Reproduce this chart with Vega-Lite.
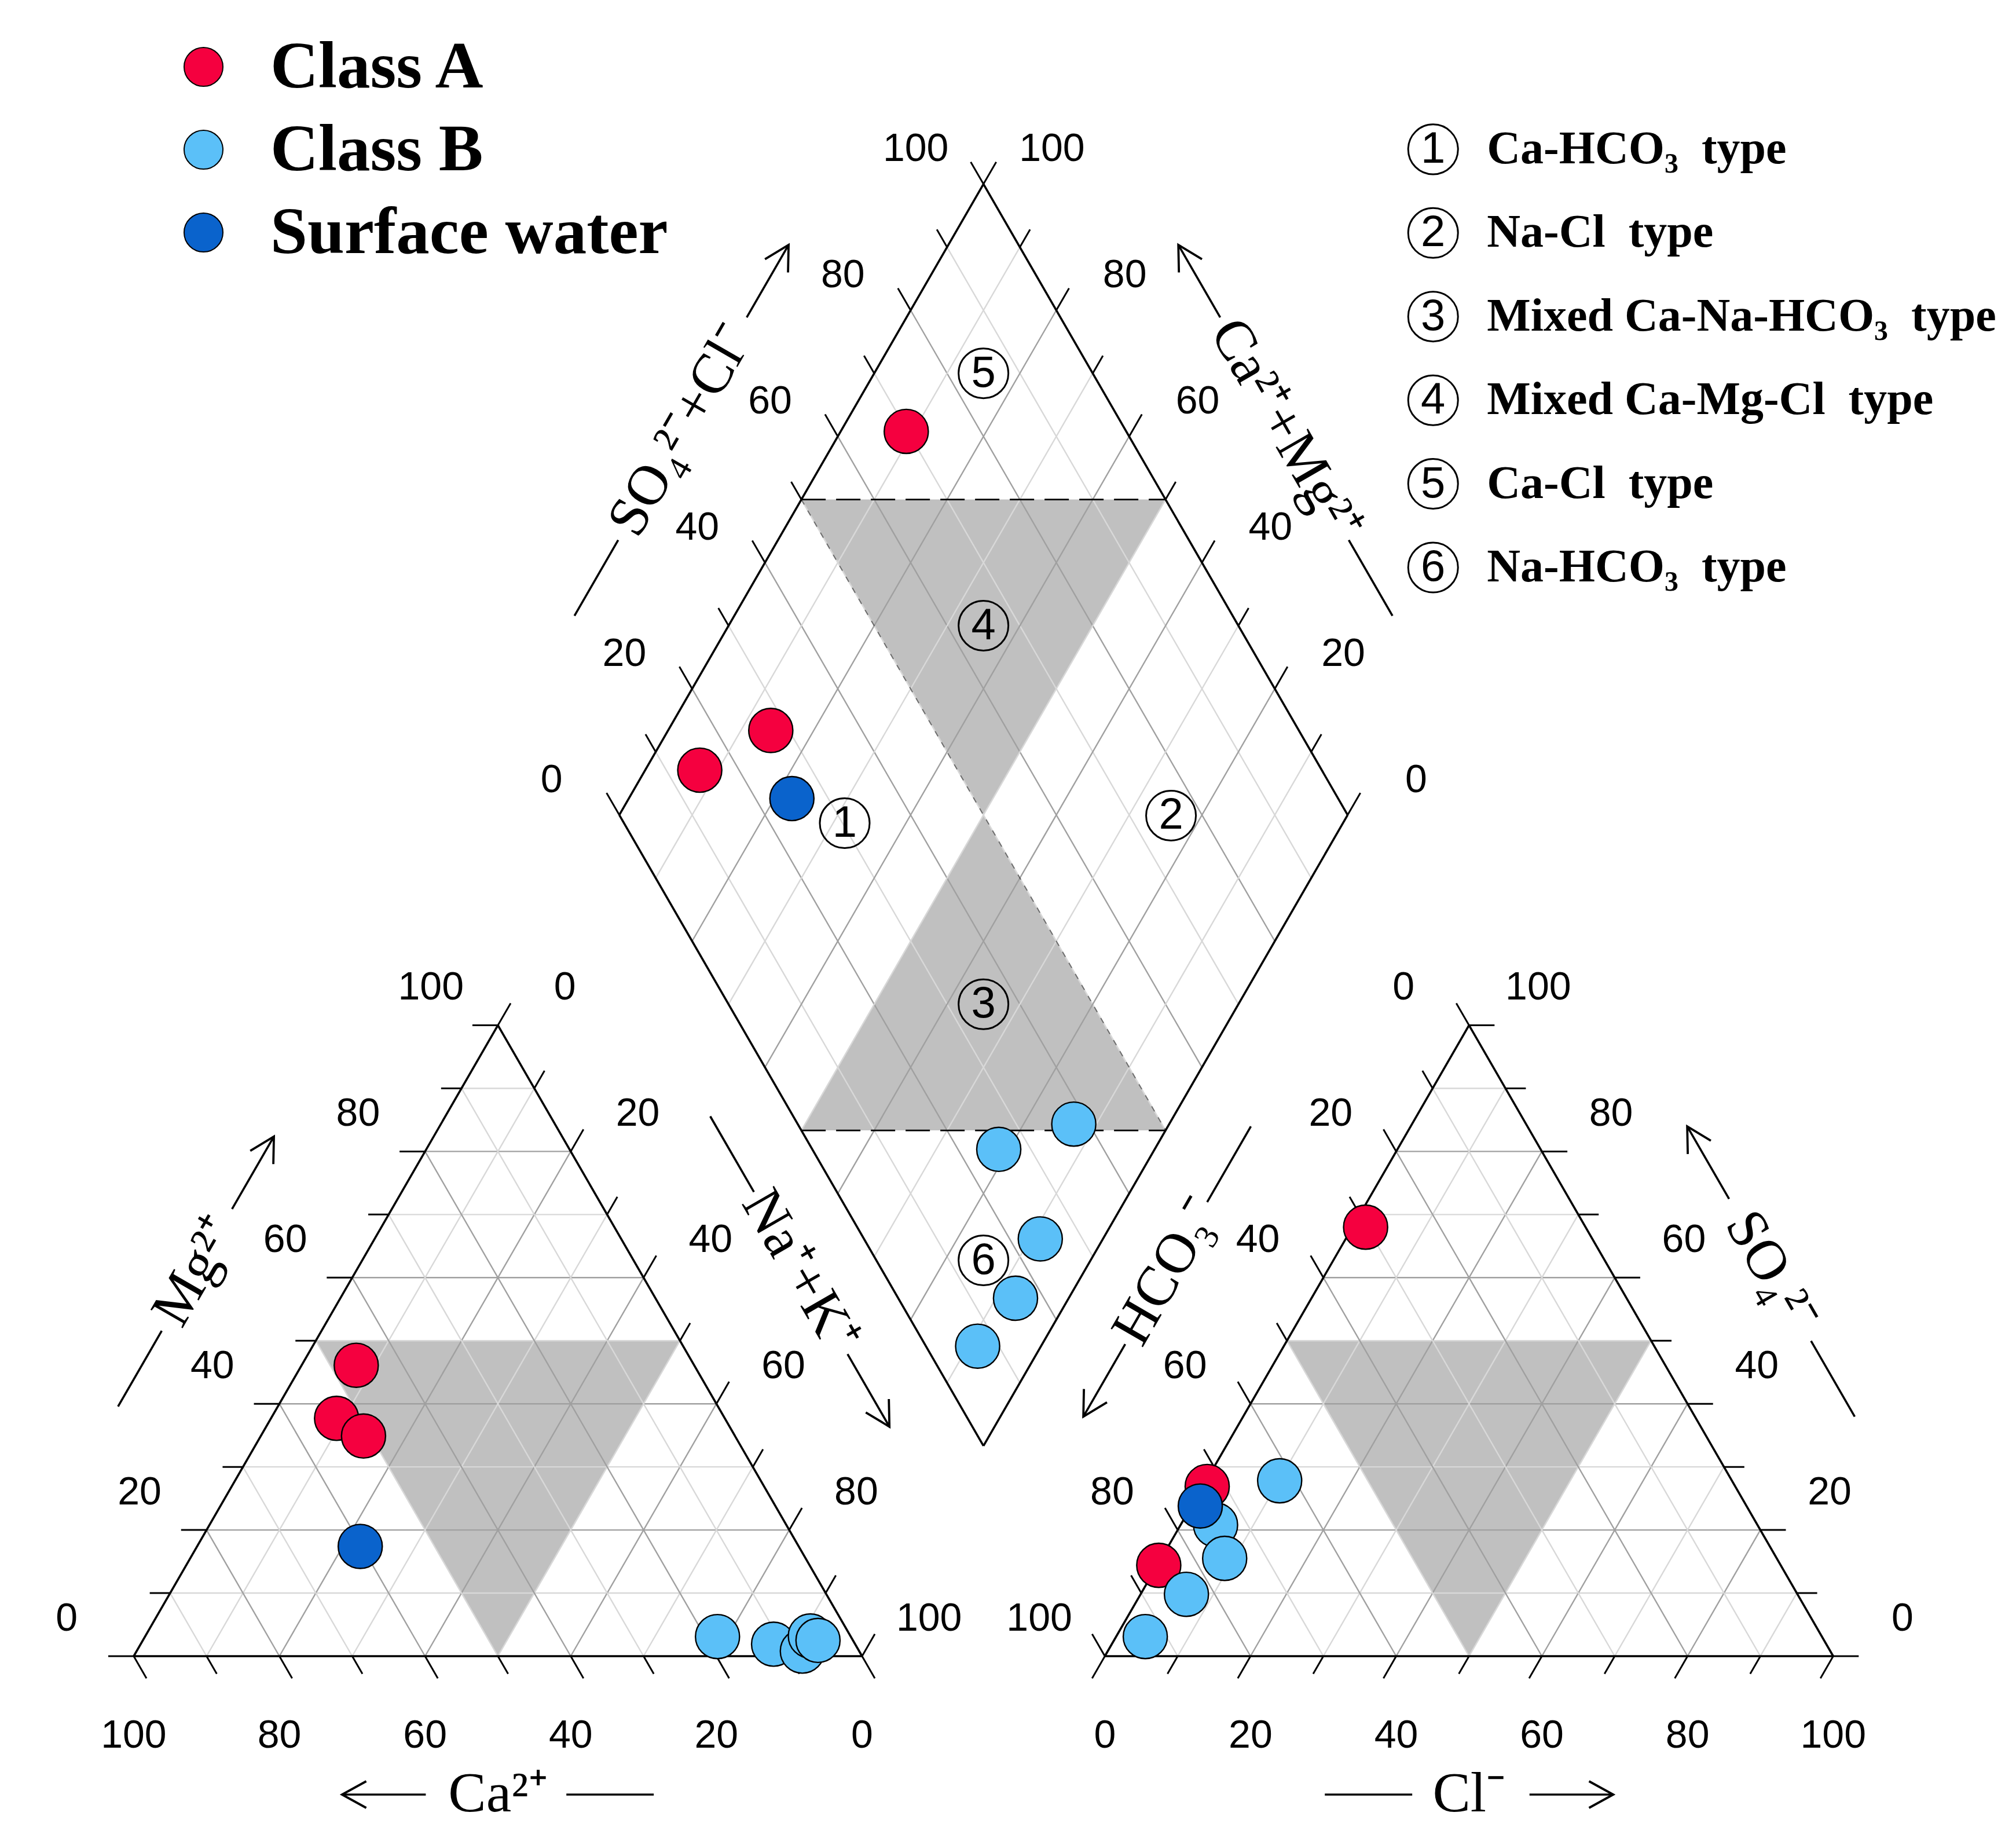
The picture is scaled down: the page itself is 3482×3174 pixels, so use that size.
{
  "$schema": "https://vega.github.io/schema/vega-lite/v6.json",
  "width": 3482,
  "height": 3174,
  "autosize": {"type": "fit", "contains": "padding"},
  "padding": 0,
  "background": "white",
  "config": {"view": {"stroke": null}},
  "datasets": {
    "samples": [
      {"id": "A1", "cls": "Class A", "Ca": 46.4, "Mg": 46.1, "NaK": 7.5, "HCO3": 85.4, "SO4": 14.4, "Cl": 0.2},
      {"id": "A2", "cls": "Class A", "Ca": 53.3, "Mg": 37.7, "NaK": 9.0, "HCO3": 30.2, "SO4": 68.0, "Cl": 1.8},
      {"id": "A3", "cls": "Class A", "Ca": 51.0, "Mg": 34.9, "NaK": 14.1, "HCO3": 72.5, "SO4": 26.9, "Cl": 0.6},
      {"id": "B1", "cls": "Class B", "Ca": 18.3, "Mg": 3.1, "NaK": 78.6, "HCO3": 74.4, "SO4": 20.8, "Cl": 4.8},
      {"id": "B2", "cls": "Class B", "Ca": 11.2, "Mg": 1.9, "NaK": 86.9, "HCO3": 62.1, "SO4": 27.8, "Cl": 10.1},
      {"id": "B3", "cls": "Class B", "Ca": 7.8, "Mg": 0.8, "NaK": 91.4, "HCO3": 75.8, "SO4": 15.5, "Cl": 8.7},
      {"id": "B4", "cls": "Class B", "Ca": 5.5, "Mg": 3.2, "NaK": 91.3, "HCO3": 92.9, "SO4": 3.1, "Cl": 4.0},
      {"id": "B5", "cls": "Class B", "Ca": 4.8, "Mg": 2.5, "NaK": 92.7, "HCO3": 83.9, "SO4": 9.8, "Cl": 6.3},
      {"id": "S1", "cls": "Surface water", "Ca": 60.2, "Mg": 17.4, "NaK": 22.4, "HCO3": 75.0, "SO4": 23.8, "Cl": 1.2}
    ],
    "axes": [
      {"axis": "Mg", "vs": [0, 10, 20, 30, 40, 50, 60, 70, 80, 90, 100]},
      {"axis": "Na", "vs": [0, 10, 20, 30, 40, 50, 60, 70, 80, 90, 100]},
      {"axis": "Ca", "vs": [0, 10, 20, 30, 40, 50, 60, 70, 80, 90, 100]},
      {"axis": "SO4", "vs": [0, 10, 20, 30, 40, 50, 60, 70, 80, 90, 100]},
      {"axis": "Cl", "vs": [0, 10, 20, 30, 40, 50, 60, 70, 80, 90, 100]},
      {"axis": "HCO3", "vs": [0, 10, 20, 30, 40, 50, 60, 70, 80, 90, 100]},
      {"axis": "SC", "vs": [0, 10, 20, 30, 40, 50, 60, 70, 80, 90, 100]},
      {"axis": "CM", "vs": [0, 10, 20, 30, 40, 50, 60, 70, 80, 90, 100]}
    ],
    "titles": [
      {"axis": "Mg", "label": "Mg²⁺"},
      {"axis": "Na", "label": "Na⁺+K⁺"},
      {"axis": "Ca", "label": "Ca²⁺"},
      {"axis": "SO4", "label": "SO₄²⁻"},
      {"axis": "Cl", "label": "Cl⁻"},
      {"axis": "HCO3", "label": "HCO₃⁻"},
      {"axis": "SC", "label": "SO₄²⁻+Cl⁻"},
      {"axis": "CM", "label": "Ca²⁺+Mg²⁺"}
    ],
    "shade": [
      {"reg": "c", "u": 0, "w": 50}, {"reg": "c", "u": 50, "w": 0}, {"reg": "c", "u": 50, "w": 50},
      {"reg": "a", "u": 0, "w": 50}, {"reg": "a", "u": 50, "w": 0}, {"reg": "a", "u": 50, "w": 50},
      {"reg": "d4", "u": 50, "w": 100}, {"reg": "d4", "u": 50, "w": 50}, {"reg": "d4", "u": 100, "w": 50},
      {"reg": "d3", "u": 0, "w": 50}, {"reg": "d3", "u": 50, "w": 0}, {"reg": "d3", "u": 50, "w": 50}
    ],
    "dashes": [
      {"s1": 50, "c1": 100, "s2": 100, "c2": 50},
      {"s1": 0, "c1": 50, "s2": 50, "c2": 0},
      {"s1": 50, "c1": 100, "s2": 50, "c2": 0}
    ],
    "zones": [
      {"z": 1, "name": "Ca-HCO₃\u00a0 type", "sc": 30.3, "cm": 68.4},
      {"z": 2, "name": "Na-Cl\u00a0 type", "sc": 75.7, "cm": 24.2},
      {"z": 3, "name": "Mixed Ca-Na-HCO₃\u00a0 type", "sc": 35, "cm": 35},
      {"z": 4, "name": "Mixed Ca-Mg-Cl\u00a0 type", "sc": 65, "cm": 65},
      {"z": 5, "name": "Ca-Cl\u00a0 type", "sc": 85, "cm": 85},
      {"z": 6, "name": "Na-HCO₃\u00a0 type", "sc": 14.7, "cm": 14.7}
    ]
  },
  "encoding": {
    "x": {"field": "x", "type": "quantitative", "scale": {"domain": [-18.36, 258.43], "nice": false, "zero": false}, "axis": null},
    "y": {"field": "y", "type": "quantitative", "scale": {"domain": [-24.96, 227.34], "nice": false, "zero": false}, "axis": null}
  },
  "layer": [
    {
      "data": {"name": "shade"},
      "transform": [
        {"calculate": "datum.reg=='c' ? datum.u + datum.w/2 : datum.reg=='a' ? 133.3333 + datum.u + datum.w/2 : 116.6667 + (datum.u - datum.w)/2", "as": "x"},
        {"calculate": "(datum.reg=='c' || datum.reg=='a') ? 0.8660254*datum.w : 28.8675 + 0.8660254*(datum.u + datum.w)", "as": "y"},
        {"joinaggregate": [{"op": "min", "field": "y", "as": "ymin"}, {"op": "max", "field": "y", "as": "ymax"}], "groupby": ["reg"]},
        {"calculate": "datum.reg=='d3' ? datum.ymin : datum.ymax", "as": "y2"}
      ],
      "mark": {"type": "area", "orient": "vertical", "color": "#c0c0c0", "opacity": 1, "interpolate": "linear"},
      "encoding": {"y2": {"field": "y2"}, "detail": {"field": "reg"}}
    },
    {
      "data": {"name": "axes"},
      "transform": [
        {"flatten": ["vs"], "as": ["v"]},
        {"calculate": "datum.axis=='Mg' ? 0 : datum.axis=='Na' ? 1 : datum.axis=='Ca' ? 2 : datum.axis=='SO4' ? 3 : datum.axis=='Cl' ? 4 : datum.axis=='HCO3' ? 5 : datum.axis=='SC' ? 6 : 7", "as": "t"},
        {"calculate": "(datum.t>=3 && datum.t<=5) ? 133.3333 : 0", "as": "off"},
        {"calculate": "(datum.t==0||datum.t==3) ? 'h' : (datum.t==1||datum.t==4) ? 'l' : (datum.t==2||datum.t==5) ? 'r' : datum.t==6 ? 'a' : 'c'", "as": "k"},
        {"calculate": "datum.k=='h' ? datum.off+datum.v/2 : datum.k=='l' ? datum.off+datum.v : datum.k=='r' ? datum.off+100-datum.v : datum.k=='a' ? 116.6667+datum.v/2 : 116.6667-datum.v/2", "as": "x"},
        {"calculate": "datum.k=='h' ? 0.8660254*datum.v : (datum.k=='l'||datum.k=='r') ? 0 : 28.8675+0.8660254*datum.v", "as": "y"},
        {"calculate": "datum.k=='h' ? datum.off+100-datum.v/2 : datum.k=='l' ? datum.off+50+datum.v/2 : datum.k=='r' ? datum.off+(100-datum.v)/2 : datum.k=='a' ? 116.6667+(datum.v-100)/2 : 116.6667+(100-datum.v)/2", "as": "x2"},
        {"calculate": "datum.k=='h' ? 0.8660254*datum.v : (datum.k=='l'||datum.k=='r') ? 0.8660254*(100-datum.v) : 28.8675+0.8660254*(100+datum.v)", "as": "y2"},
        {"filter": "datum.v > 0 && datum.v < 100"}
      ],
      "mark": {"type": "rule", "strokeWidth": 2.4},
      "encoding": {
        "x2": {"field": "x2"},
        "y2": {"field": "y2"},
        "color": {"condition": {"test": "datum.v % 20 == 0", "value": "#a0a0a0"}, "value": "#d8d8d8"}
      }
    },
    {
      "data": {"name": "dashes"},
      "transform": [
        {"filter": "datum.s1 + datum.c1 == datum.s2 + datum.c2"},
        {"calculate": "116.6667 + (datum.s1 - datum.c1)/2", "as": "x"},
        {"calculate": "28.8675 + 0.8660254*(datum.s1 + datum.c1)", "as": "y"},
        {"calculate": "116.6667 + (datum.s2 - datum.c2)/2", "as": "x2"},
        {"calculate": "28.8675 + 0.8660254*(datum.s2 + datum.c2)", "as": "y2"}
      ],
      "mark": {"type": "rule", "color": "black", "strokeWidth": 2.8, "strokeDash": [42, 18]},
      "encoding": {"x2": {"field": "x2"}, "y2": {"field": "y2"}}
    },
    {
      "data": {"name": "dashes"},
      "transform": [
        {"filter": "datum.s1 + datum.c1 != datum.s2 + datum.c2"},
        {"calculate": "116.6667 + (datum.s1 - datum.c1)/2", "as": "x"},
        {"calculate": "28.8675 + 0.8660254*(datum.s1 + datum.c1)", "as": "y"},
        {"calculate": "116.6667 + (datum.s2 - datum.c2)/2", "as": "x2"},
        {"calculate": "28.8675 + 0.8660254*(datum.s2 + datum.c2)", "as": "y2"}
      ],
      "mark": {"type": "rule", "color": "black", "strokeWidth": 2, "strokeDash": [10, 12], "opacity": 0.5},
      "encoding": {"x2": {"field": "x2"}, "y2": {"field": "y2"}}
    },
    {
      "data": {"name": "axes"},
      "transform": [
        {"flatten": ["vs"], "as": ["v"]},
        {"calculate": "datum.axis=='Mg' ? 0 : datum.axis=='Na' ? 1 : datum.axis=='Ca' ? 2 : datum.axis=='SO4' ? 3 : datum.axis=='Cl' ? 4 : datum.axis=='HCO3' ? 5 : datum.axis=='SC' ? 6 : 7", "as": "t"},
        {"calculate": "(datum.t>=3 && datum.t<=5) ? 133.3333 : 0", "as": "off"},
        {"calculate": "(datum.t==0||datum.t==3) ? 'h' : (datum.t==1||datum.t==4) ? 'l' : (datum.t==2||datum.t==5) ? 'r' : datum.t==6 ? 'a' : 'c'", "as": "k"},
        {"calculate": "datum.k=='h' ? datum.off+datum.v/2 : datum.k=='l' ? datum.off+datum.v : datum.k=='r' ? datum.off+100-datum.v : datum.k=='a' ? 116.6667+datum.v/2 : 116.6667-datum.v/2", "as": "x"},
        {"calculate": "datum.k=='h' ? 0.8660254*datum.v : (datum.k=='l'||datum.k=='r') ? 0 : 28.8675+0.8660254*datum.v", "as": "y"},
        {"calculate": "datum.k=='h' ? datum.off+100-datum.v/2 : datum.k=='l' ? datum.off+50+datum.v/2 : datum.k=='r' ? datum.off+(100-datum.v)/2 : datum.k=='a' ? 116.6667+(datum.v-100)/2 : 116.6667+(100-datum.v)/2", "as": "x2"},
        {"calculate": "datum.k=='h' ? 0.8660254*datum.v : (datum.k=='l'||datum.k=='r') ? 0.8660254*(100-datum.v) : 28.8675+0.8660254*(100+datum.v)", "as": "y2"},
        {"filter": "datum.v == 0 || (datum.v == 100 && datum.t >= 6)"}
      ],
      "mark": {"type": "rule", "color": "black", "strokeWidth": 3.6},
      "encoding": {"x2": {"field": "x2"}, "y2": {"field": "y2"}}
    },
    {
      "data": {"name": "axes"},
      "transform": [
        {"flatten": ["vs"], "as": ["v"]},
        {"calculate": "datum.axis=='Mg' ? 0 : datum.axis=='Na' ? 1 : datum.axis=='Ca' ? 2 : datum.axis=='SO4' ? 3 : datum.axis=='Cl' ? 4 : datum.axis=='HCO3' ? 5 : datum.axis=='SC' ? 6 : 7", "as": "t"},
        {"calculate": "(datum.t>=3 && datum.t<=5) ? 133.3333 : 0", "as": "off"},
        {"calculate": "(datum.t==0||datum.t==3) ? 'h' : (datum.t==1||datum.t==4) ? 'l' : (datum.t==2||datum.t==5) ? 'r' : datum.t==6 ? 'a' : 'c'", "as": "k"},
        {"calculate": "datum.k=='h' ? datum.off+datum.v/2 : datum.k=='l' ? datum.off+datum.v : datum.k=='r' ? datum.off+100-datum.v : datum.k=='a' ? 116.6667+datum.v/2 : 116.6667-datum.v/2", "as": "p1x"},
        {"calculate": "datum.k=='h' ? 0.8660254*datum.v : (datum.k=='l'||datum.k=='r') ? 0 : 28.8675+0.8660254*datum.v", "as": "p1y"},
        {"calculate": "datum.k=='h' ? datum.off+100-datum.v/2 : datum.k=='l' ? datum.off+50+datum.v/2 : datum.k=='r' ? datum.off+(100-datum.v)/2 : datum.k=='a' ? 116.6667+(datum.v-100)/2 : 116.6667+(100-datum.v)/2", "as": "p2x"},
        {"calculate": "datum.k=='h' ? 0.8660254*datum.v : (datum.k=='l'||datum.k=='r') ? 0.8660254*(100-datum.v) : 28.8675+0.8660254*(100+datum.v)", "as": "p2y"},
        {"calculate": "(datum.t==0||datum.t==2||datum.t==4) ? datum.p1x : datum.p2x", "as": "x"},
        {"calculate": "(datum.t==0||datum.t==2||datum.t==4) ? datum.p1y : datum.p2y", "as": "y"},
        {"calculate": "datum.v % 20 == 0 ? 3.5 : 2.8", "as": "L"},
        {"calculate": "datum.t==0 ? -1 : datum.t==3 ? 1 : (datum.t==1||datum.t==2||datum.t==7) ? 0.5 : -0.5", "as": "dx"},
        {"calculate": "(datum.t==0||datum.t==3) ? 0 : (datum.t==2||datum.t==4) ? -0.8660254 : 0.8660254", "as": "dy"},
        {"calculate": "datum.x + datum.L*datum.dx", "as": "x2"},
        {"calculate": "datum.y + datum.L*datum.dy", "as": "y2"}
      ],
      "mark": {"type": "rule", "color": "black", "strokeWidth": 3},
      "encoding": {"x2": {"field": "x2"}, "y2": {"field": "y2"}}
    },
    {
      "data": {"name": "axes"},
      "transform": [
        {"flatten": ["vs"], "as": ["v"]},
        {"filter": "datum.v % 20 == 0"},
        {"calculate": "datum.axis=='Mg' ? 0 : datum.axis=='Na' ? 1 : datum.axis=='Ca' ? 2 : datum.axis=='SO4' ? 3 : datum.axis=='Cl' ? 4 : datum.axis=='HCO3' ? 5 : datum.axis=='SC' ? 6 : 7", "as": "t"},
        {"calculate": "(datum.t>=3 && datum.t<=5) ? 133.3333 : 0", "as": "off"},
        {"calculate": "(datum.t==0||datum.t==3) ? 'h' : (datum.t==1||datum.t==4) ? 'l' : (datum.t==2||datum.t==5) ? 'r' : datum.t==6 ? 'a' : 'c'", "as": "k"},
        {"calculate": "datum.k=='h' ? datum.off+datum.v/2 : datum.k=='l' ? datum.off+datum.v : datum.k=='r' ? datum.off+100-datum.v : datum.k=='a' ? 116.6667+datum.v/2 : 116.6667-datum.v/2", "as": "p1x"},
        {"calculate": "datum.k=='h' ? 0.8660254*datum.v : (datum.k=='l'||datum.k=='r') ? 0 : 28.8675+0.8660254*datum.v", "as": "p1y"},
        {"calculate": "datum.k=='h' ? datum.off+100-datum.v/2 : datum.k=='l' ? datum.off+50+datum.v/2 : datum.k=='r' ? datum.off+(100-datum.v)/2 : datum.k=='a' ? 116.6667+(datum.v-100)/2 : 116.6667+(100-datum.v)/2", "as": "p2x"},
        {"calculate": "datum.k=='h' ? 0.8660254*datum.v : (datum.k=='l'||datum.k=='r') ? 0.8660254*(100-datum.v) : 28.8675+0.8660254*(100+datum.v)", "as": "p2y"},
        {"calculate": "datum.t==0 ? -9.2 : datum.t==1 ? 9.2 : datum.t==3 ? 9.5 : datum.t==5 ? -9.0 : datum.t==6 ? -9.3 : datum.t==7 ? 9.4 : 0", "as": "ox"},
        {"calculate": "(datum.t==2||datum.t==4) ? -11 : datum.t>=6 ? 4.75 : 5.1", "as": "oy"},
        {"calculate": "((datum.t==0||datum.t==2||datum.t==4) ? datum.p1x : datum.p2x) + datum.ox", "as": "x"},
        {"calculate": "((datum.t==0||datum.t==2||datum.t==4) ? datum.p1y : datum.p2y) + datum.oy", "as": "y"}
      ],
      "mark": {"type": "text", "font": "Liberation Sans", "fontSize": 68, "color": "black", "align": "center", "baseline": "middle"},
      "encoding": {"text": {"field": "v", "type": "quantitative", "format": "d"}}
    },
    {
      "data": {"name": "titles"},
      "transform": [
        {"calculate": "datum.axis=='Mg' ? 0 : datum.axis=='Na' ? 1 : datum.axis=='Ca' ? 2 : datum.axis=='SO4' ? 3 : datum.axis=='Cl' ? 4 : datum.axis=='HCO3' ? 5 : datum.axis=='SC' ? 6 : 7", "as": "t"},
        {"calculate": "datum.t==0 ? 25 : datum.t==1 ? 75 : datum.t==2 ? 50 : datum.t==3 ? 208.3333 : datum.t==4 ? 183.3333 : datum.t==5 ? 158.3333 : datum.t==6 ? 91.6667 : 141.6667", "as": "mx"},
        {"calculate": "(datum.t==2||datum.t==4) ? 0 : datum.t>=6 ? 158.7713 : 43.3013", "as": "my"},
        {"calculate": "datum.t==2 ? -1 : datum.t==4 ? 1 : (datum.t==0||datum.t==1||datum.t==6) ? 0.5 : -0.5", "as": "ux"},
        {"calculate": "(datum.t==2||datum.t==4) ? 0 : (datum.t==1||datum.t==5) ? -0.8660254 : 0.8660254", "as": "uy"},
        {"calculate": "(datum.t==2||datum.t==4) ? 0 : (datum.t==0||datum.t==5||datum.t==6) ? -0.8660254 : 0.8660254", "as": "nx"},
        {"calculate": "(datum.t==2||datum.t==4) ? -1 : 0.5", "as": "ny"},
        {"calculate": "3 + 1.6*length(datum.label)", "as": "g"},
        {"calculate": "datum.mx + 19*datum.nx", "as": "cx"},
        {"calculate": "datum.my + 19*datum.ny", "as": "cy"},
        {"calculate": "datum.cx - datum.ux*(datum.g + 12)", "as": "x"},
        {"calculate": "datum.cy - datum.uy*(datum.g + 12)", "as": "y"},
        {"calculate": "datum.cx - datum.ux*datum.g", "as": "x2"},
        {"calculate": "datum.cy - datum.uy*datum.g", "as": "y2"}
      ],
      "mark": {"type": "rule", "color": "black", "strokeWidth": 3.6},
      "encoding": {"x2": {"field": "x2"}, "y2": {"field": "y2"}}
    },
    {
      "data": {"name": "titles"},
      "transform": [
        {"calculate": "datum.axis=='Mg' ? 0 : datum.axis=='Na' ? 1 : datum.axis=='Ca' ? 2 : datum.axis=='SO4' ? 3 : datum.axis=='Cl' ? 4 : datum.axis=='HCO3' ? 5 : datum.axis=='SC' ? 6 : 7", "as": "t"},
        {"calculate": "datum.t==0 ? 25 : datum.t==1 ? 75 : datum.t==2 ? 50 : datum.t==3 ? 208.3333 : datum.t==4 ? 183.3333 : datum.t==5 ? 158.3333 : datum.t==6 ? 91.6667 : 141.6667", "as": "mx"},
        {"calculate": "(datum.t==2||datum.t==4) ? 0 : datum.t>=6 ? 158.7713 : 43.3013", "as": "my"},
        {"calculate": "datum.t==2 ? -1 : datum.t==4 ? 1 : (datum.t==0||datum.t==1||datum.t==6) ? 0.5 : -0.5", "as": "ux"},
        {"calculate": "(datum.t==2||datum.t==4) ? 0 : (datum.t==1||datum.t==5) ? -0.8660254 : 0.8660254", "as": "uy"},
        {"calculate": "(datum.t==2||datum.t==4) ? 0 : (datum.t==0||datum.t==5||datum.t==6) ? -0.8660254 : 0.8660254", "as": "nx"},
        {"calculate": "(datum.t==2||datum.t==4) ? -1 : 0.5", "as": "ny"},
        {"calculate": "3.5 + 1.6*length(datum.label)", "as": "g"},
        {"calculate": "datum.mx + 19*datum.nx", "as": "cx"},
        {"calculate": "datum.my + 19*datum.ny", "as": "cy"},
        {"calculate": "datum.cx + datum.ux*datum.g", "as": "x"},
        {"calculate": "datum.cy + datum.uy*datum.g", "as": "y"},
        {"calculate": "datum.cx + datum.ux*(datum.g + 11.5)", "as": "x2"},
        {"calculate": "datum.cy + datum.uy*(datum.g + 11.5)", "as": "y2"}
      ],
      "mark": {"type": "rule", "color": "black", "strokeWidth": 3.6},
      "encoding": {"x2": {"field": "x2"}, "y2": {"field": "y2"}}
    },
    {
      "data": {"name": "titles"},
      "transform": [
        {"calculate": "datum.axis=='Mg' ? 0 : datum.axis=='Na' ? 1 : datum.axis=='Ca' ? 2 : datum.axis=='SO4' ? 3 : datum.axis=='Cl' ? 4 : datum.axis=='HCO3' ? 5 : datum.axis=='SC' ? 6 : 7", "as": "t"},
        {"calculate": "datum.t==0 ? 25 : datum.t==1 ? 75 : datum.t==2 ? 50 : datum.t==3 ? 208.3333 : datum.t==4 ? 183.3333 : datum.t==5 ? 158.3333 : datum.t==6 ? 91.6667 : 141.6667", "as": "mx"},
        {"calculate": "(datum.t==2||datum.t==4) ? 0 : datum.t>=6 ? 158.7713 : 43.3013", "as": "my"},
        {"calculate": "datum.t==2 ? -1 : datum.t==4 ? 1 : (datum.t==0||datum.t==1||datum.t==6) ? 0.5 : -0.5", "as": "ux"},
        {"calculate": "(datum.t==2||datum.t==4) ? 0 : (datum.t==1||datum.t==5) ? -0.8660254 : 0.8660254", "as": "uy"},
        {"calculate": "(datum.t==2||datum.t==4) ? 0 : (datum.t==0||datum.t==5||datum.t==6) ? -0.8660254 : 0.8660254", "as": "nx"},
        {"calculate": "(datum.t==2||datum.t==4) ? -1 : 0.5", "as": "ny"},
        {"calculate": "3.5 + 1.6*length(datum.label)", "as": "g"},
        {"calculate": "datum.mx + 19*datum.nx + datum.ux*(datum.g + 11.5)", "as": "x"},
        {"calculate": "datum.my + 19*datum.ny + datum.uy*(datum.g + 11.5)", "as": "y"},
        {"calculate": "atan2(-datum.uy, datum.ux)*180/PI", "as": "hang"}
      ],
      "mark": {"type": "point", "shape": "M-1,-0.55L0,0L-1,0.55", "filled": false, "size": 7000, "stroke": "black", "strokeWidth": 3.8, "opacity": 1, "strokeJoin": "miter"},
      "encoding": {"angle": {"field": "hang", "type": "quantitative", "scale": null}}
    },
    {
      "data": {"name": "titles"},
      "transform": [
        {"calculate": "datum.axis=='Mg' ? 0 : datum.axis=='Na' ? 1 : datum.axis=='Ca' ? 2 : datum.axis=='SO4' ? 3 : datum.axis=='Cl' ? 4 : datum.axis=='HCO3' ? 5 : datum.axis=='SC' ? 6 : 7", "as": "t"},
        {"calculate": "datum.t==0 ? 25 : datum.t==1 ? 75 : datum.t==2 ? 50 : datum.t==3 ? 208.3333 : datum.t==4 ? 183.3333 : datum.t==5 ? 158.3333 : datum.t==6 ? 91.6667 : 141.6667", "as": "mx"},
        {"calculate": "(datum.t==2||datum.t==4) ? 0 : datum.t>=6 ? 158.7713 : 43.3013", "as": "my"},
        {"calculate": "(datum.t==2||datum.t==4) ? 0 : (datum.t==0||datum.t==5||datum.t==6) ? -0.8660254 : 0.8660254", "as": "nx"},
        {"calculate": "(datum.t==2||datum.t==4) ? -1 : 0.5", "as": "ny"},
        {"calculate": "(datum.t==2||datum.t==4) ? 0 : (datum.t==0||datum.t==5||datum.t==6) ? 300 : 60", "as": "ang"},
        {"calculate": "datum.mx + 19*datum.nx", "as": "x"},
        {"calculate": "datum.my + 19*datum.ny", "as": "y"}
      ],
      "mark": {"type": "text", "font": "Liberation Serif", "fontSize": 98, "color": "black", "align": "center", "baseline": "middle"},
      "encoding": {
        "text": {"field": "label"},
        "angle": {"field": "ang", "type": "quantitative", "scale": null}
      }
    },
    {
      "data": {"name": "zones"},
      "transform": [
        {"calculate": "116.6667 + (datum.sc - datum.cm)/2", "as": "x"},
        {"calculate": "28.8675 + 0.8660254*(datum.sc + datum.cm)", "as": "y"}
      ],
      "mark": {"type": "point", "shape": "circle", "filled": false, "size": 7400, "stroke": "black", "strokeWidth": 3, "opacity": 1}
    },
    {
      "data": {"name": "zones"},
      "transform": [
        {"calculate": "116.6667 + (datum.sc - datum.cm)/2", "as": "x"},
        {"calculate": "28.8675 + 0.8660254*(datum.sc + datum.cm)", "as": "y"}
      ],
      "mark": {"type": "text", "font": "Liberation Sans", "fontSize": 76, "color": "black", "align": "center", "baseline": "middle"},
      "encoding": {"text": {"field": "z"}}
    },
    {
      "data": {"name": "zones"},
      "transform": [
        {"calculate": "178.4", "as": "x"},
        {"calculate": "206.84 - 11.48*(datum.z - 1)", "as": "y"}
      ],
      "mark": {"type": "point", "shape": "circle", "filled": false, "size": 7400, "stroke": "black", "strokeWidth": 3, "opacity": 1}
    },
    {
      "data": {"name": "zones"},
      "transform": [
        {"calculate": "178.4", "as": "x"},
        {"calculate": "206.84 - 11.48*(datum.z - 1)", "as": "y"}
      ],
      "mark": {"type": "text", "font": "Liberation Sans", "fontSize": 76, "color": "black", "align": "center", "baseline": "middle"},
      "encoding": {"text": {"field": "z"}}
    },
    {
      "data": {"name": "zones"},
      "transform": [
        {"calculate": "185.8", "as": "x"},
        {"calculate": "206.84 - 11.48*(datum.z - 1)", "as": "y"}
      ],
      "mark": {"type": "text", "font": "Liberation Serif", "fontSize": 80, "fontWeight": "bold", "color": "black", "align": "left", "baseline": "middle"},
      "encoding": {"text": {"field": "name"}}
    },
    {
      "data": {"name": "samples"},
      "transform": [
        {"calculate": "datum.NaK + datum.Mg/2", "as": "x"},
        {"calculate": "0.8660254*datum.Mg", "as": "y"}
      ],
      "mark": {"type": "point", "shape": "circle", "filled": true, "size": 5800, "stroke": "black", "strokeWidth": 2.4, "opacity": 1},
      "encoding": {
        "color": {"field": "cls", "type": "nominal", "scale": {"domain": ["Class A", "Class B", "Surface water"], "range": ["#F5003F", "#5BC0F8", "#0A63CC"]},
          "legend": {"title": null, "orient": "none", "legendX": 294, "legendY": 58, "symbolType": "circle", "symbolSize": 4500, "symbolStrokeColor": "black", "symbolStrokeWidth": 2, "symbolOpacity": 1, "labelFont": "Liberation Serif", "labelFontSize": 115, "labelFontWeight": "bold", "labelColor": "black", "labelOffset": 58, "rowPadding": 27, "labelLimit": 0, "padding": 0}}
      }
    },
    {
      "data": {"name": "samples"},
      "transform": [
        {"calculate": "133.3333 + datum.Cl + datum.SO4/2", "as": "x"},
        {"calculate": "0.8660254*datum.SO4", "as": "y"}
      ],
      "mark": {"type": "point", "shape": "circle", "filled": true, "size": 5800, "stroke": "black", "strokeWidth": 2.4, "opacity": 1},
      "encoding": {
        "color": {"field": "cls", "type": "nominal", "scale": {"domain": ["Class A", "Class B", "Surface water"], "range": ["#F5003F", "#5BC0F8", "#0A63CC"]},
          "legend": {"title": null, "orient": "none", "legendX": 294, "legendY": 58, "symbolType": "circle", "symbolSize": 4500, "symbolStrokeColor": "black", "symbolStrokeWidth": 2, "symbolOpacity": 1, "labelFont": "Liberation Serif", "labelFontSize": 115, "labelFontWeight": "bold", "labelColor": "black", "labelOffset": 58, "rowPadding": 27, "labelLimit": 0, "padding": 0}}
      }
    },
    {
      "data": {"name": "samples"},
      "transform": [
        {"calculate": "datum.SO4 + datum.Cl", "as": "sc"},
        {"calculate": "datum.Ca + datum.Mg", "as": "cm"},
        {"calculate": "116.6667 + (datum.sc - datum.cm)/2", "as": "x"},
        {"calculate": "28.8675 + 0.8660254*(datum.sc + datum.cm)", "as": "y"}
      ],
      "mark": {"type": "point", "shape": "circle", "filled": true, "size": 5800, "stroke": "black", "strokeWidth": 2.4, "opacity": 1},
      "encoding": {
        "color": {"field": "cls", "type": "nominal", "scale": {"domain": ["Class A", "Class B", "Surface water"], "range": ["#F5003F", "#5BC0F8", "#0A63CC"]},
          "legend": {"title": null, "orient": "none", "legendX": 294, "legendY": 58, "symbolType": "circle", "symbolSize": 4500, "symbolStrokeColor": "black", "symbolStrokeWidth": 2, "symbolOpacity": 1, "labelFont": "Liberation Serif", "labelFontSize": 115, "labelFontWeight": "bold", "labelColor": "black", "labelOffset": 58, "rowPadding": 27, "labelLimit": 0, "padding": 0}}
      }
    }
  ]
}
